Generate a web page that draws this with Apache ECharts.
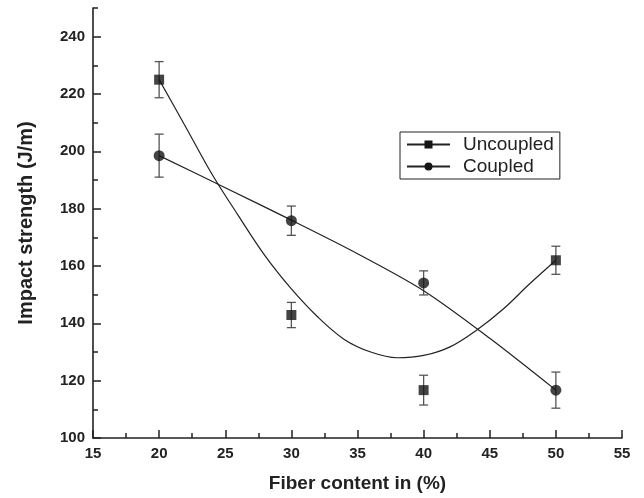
<!doctype html>
<html>
<head>
    <meta charset="UTF-8">
    <script src="https://cdn.jsdelivr.net/npm/echarts@6/dist/echarts.min.js"></script>
    <style>
        html, body { margin: 0; padding: 0; background: #fff; }
        #main { width: 644px; height: 498px; }
    </style>
</head>
<body>
<div id="main"></div>
<script type="text/javascript">
    // measured points (fiber content %, impact strength J/m)
    var fiber = [20, 30, 40, 50];
    var uncoupled = [225, 142.9, 116.7, 162.0];
    var uncoupledErr = [6.3, 4.4, 5.2, 4.9];
    var coupled = [198.5, 175.8, 154.1, 116.7];
    var coupledErr = [7.5, 5.1, 4.2, 6.3];

    // fitted curves
    var uncoupledFitX = [20, 22, 24, 26, 28, 30, 32, 34, 36, 38, 40, 42, 44, 46, 48, 50];
    var uncoupledFitY = [225, 208.6, 192.0, 177.5, 163.6, 152.0, 142.2, 134.4, 130.0, 128.0, 128.8, 131.8, 137.6, 144.9, 153.7, 162.0];
    var coupledFitX = [20, 25, 30, 35, 40, 45, 50];
    var coupledFitY = [198.5, 187.3, 176.0, 164.3, 151.4, 134.8, 116.7];

    // axis ticks
    var yMajorTicks = [100, 120, 140, 160, 180, 200, 220, 240];
    var yMinorTicks = [110, 130, 150, 170, 190, 210, 230, 250];

    var font = '"Liberation Sans", Arial, sans-serif';

    function pairs(xs, ys) {
        return xs.map(function (x, i) { return [x, ys[i]]; });
    }
    function bars(xs, ys, es) {
        return xs.map(function (x, i) { return [x, ys[i] - es[i], ys[i] + es[i]]; });
    }

    function errorBar(params, api) {
        var x = api.value(0);
        var top = api.coord([x, api.value(2)]);
        var bot = api.coord([x, api.value(1)]);
        var w = 4.5;
        var st = { stroke: '#555', lineWidth: 1.3 };
        return {
            type: 'group',
            children: [
                { type: 'line', shape: { x1: top[0], y1: top[1], x2: bot[0], y2: bot[1] }, style: st },
                { type: 'line', shape: { x1: top[0] - w, y1: top[1], x2: top[0] + w, y2: top[1] }, style: st },
                { type: 'line', shape: { x1: bot[0] - w, y1: bot[1], x2: bot[0] + w, y2: bot[1] }, style: st }
            ]
        };
    }

    var myChart = echarts.init(document.getElementById('main'));

    var option = {
        animation: false,
        backgroundColor: '#fff',
        textStyle: { fontFamily: font },
        grid: { left: 93, right: 22, top: 8, bottom: 60 },
        legend: {
            data: ['Uncoupled', 'Coupled'],
            orient: 'vertical',
            left: 400,
            top: 132,
            padding: [3, 6, 3, 6],
            itemGap: 3,
            itemWidth: 43,
            itemHeight: 10,
            borderColor: '#222',
            borderWidth: 1,
            textStyle: { fontFamily: font, fontSize: 19, color: '#222', padding: [0, 0, 0, 8] }
        },
        xAxis: {
            type: 'value',
            min: 15,
            max: 55,
            interval: 5,
            name: 'Fiber content in (%)',
            nameLocation: 'middle',
            nameGap: 36,
            nameTextStyle: { fontFamily: font, fontSize: 19, fontWeight: 'bold', color: '#222' },
            axisLine: { lineStyle: { color: '#222', width: 1.6 } },
            axisTick: { inside: true, length: 8, lineStyle: { color: '#222', width: 1.5 } },
            minorTick: { show: true, splitNumber: 2, length: 5, lineStyle: { color: '#222', width: 1.5 } },
            axisLabel: { fontFamily: font, fontSize: 15, fontWeight: 'bold', color: '#222', margin: 8 },
            splitLine: { show: false }
        },
        yAxis: [{
            type: 'value',
            min: 100,
            max: 250,
            interval: 20,
            name: 'Impact strength (J/m)',
            nameLocation: 'middle',
            nameGap: 57,
            nameTextStyle: { fontFamily: font, fontSize: 20, fontWeight: 'bold', color: '#222' },
            axisLine: { show: true, lineStyle: { color: '#222', width: 1.6 } },
            axisTick: { show: true, inside: true, length: 8, customValues: yMajorTicks, lineStyle: { color: '#222', width: 1.5 } },
            axisLabel: { fontFamily: font, fontSize: 15, fontWeight: 'bold', color: '#222', margin: 8, customValues: yMajorTicks },
            splitLine: { show: false }
        }, {
            type: 'value',
            position: 'left',
            offset: 0,
            min: 100,
            max: 250,
            interval: 20,
            axisLine: { show: false },
            axisTick: { show: true, inside: true, length: 5, customValues: yMinorTicks, lineStyle: { color: '#222', width: 1.5 } },
            axisLabel: { show: false },
            splitLine: { show: false }
        }],
        series: [
            {
                type: 'custom',
                renderItem: errorBar,
                data: bars(fiber, uncoupled, uncoupledErr),
                encode: { x: 0, y: [1, 2] },
                z: 1
            },
            {
                type: 'custom',
                renderItem: errorBar,
                data: bars(fiber, coupled, coupledErr),
                encode: { x: 0, y: [1, 2] },
                z: 1
            },
            {
                name: 'Uncoupled',
                type: 'line',
                data: pairs(uncoupledFitX, uncoupledFitY),
                smooth: 0.35,
                symbol: 'rect',
                symbolSize: 10,
                showSymbol: false,
                itemStyle: { color: '#151515' },
                lineStyle: { color: '#222', width: 1.2 },
                z: 2
            },
            {
                name: 'Coupled',
                type: 'line',
                data: pairs(coupledFitX, coupledFitY),
                smooth: 0.3,
                symbol: 'circle',
                symbolSize: 11,
                showSymbol: false,
                itemStyle: { color: '#151515' },
                lineStyle: { color: '#222', width: 1.2 },
                z: 2
            },
            {
                name: 'Uncoupled points',
                type: 'scatter',
                data: pairs(fiber, uncoupled),
                symbol: 'rect',
                symbolSize: 10,
                itemStyle: { color: '#151515' },
                z: 3
            },
            {
                name: 'Coupled points',
                type: 'scatter',
                data: pairs(fiber, coupled),
                symbol: 'circle',
                symbolSize: 11,
                itemStyle: { color: '#151515' },
                z: 3
            }
        ]
    };

    myChart.setOption(option);
</script>
</body>
</html>
